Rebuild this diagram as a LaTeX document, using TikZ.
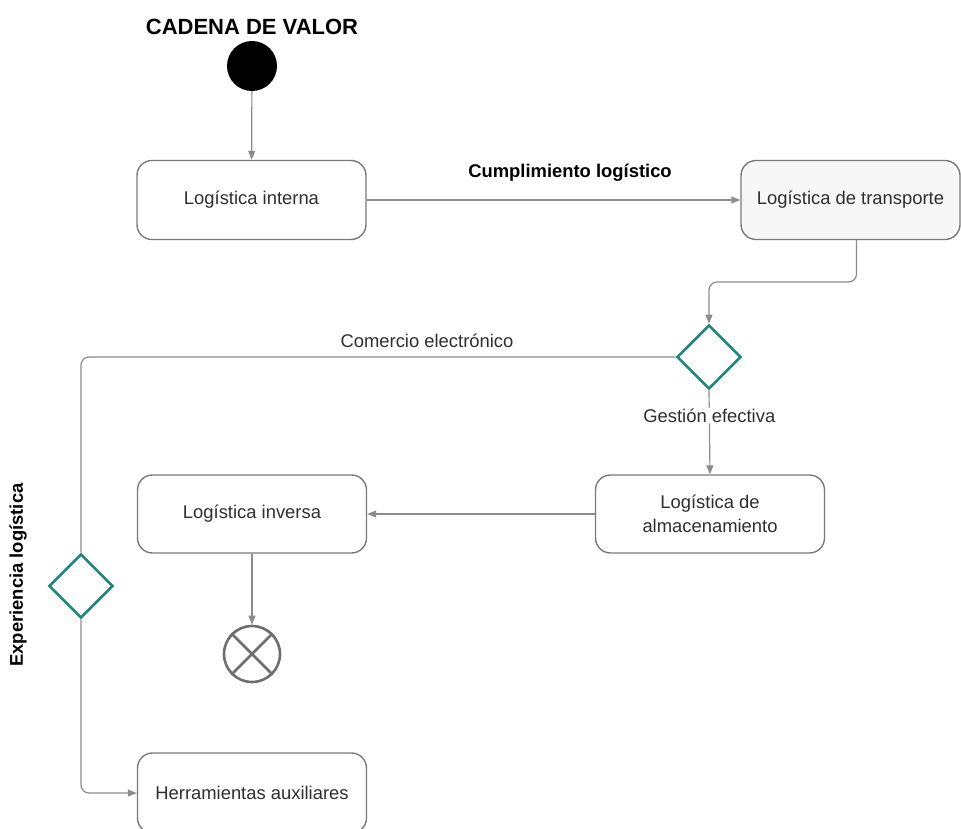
\documentclass[tikz,border=0pt]{standalone}
\usepackage{fontspec}
\setmainfont{Liberation Sans}
\usetikzlibrary{arrows.meta,shapes.geometric}
\definecolor{linegray}{HTML}{8C8C8C}
\definecolor{boxgray}{HTML}{7A7A7A}
\definecolor{txt}{HTML}{2E2E2E}
\definecolor{gateteal}{HTML}{23877D}
\definecolor{endgray}{HTML}{6E6E6E}
\definecolor{softfill}{HTML}{F7F7F7}
\begin{document}
\begin{tikzpicture}[x=1pt,y=-1pt,
  lbl/.style={font=\fontsize{18.4}{22}\selectfont, text=txt, inner sep=1pt},
  boldlbl/.style={font=\bfseries\fontsize{18.4}{22}\selectfont, text=black},
  box/.style={draw=boxgray, line width=1.4pt, rounded corners=15pt,
    minimum width=229pt, minimum height=79pt, inner sep=0pt, align=center,
    font=\fontsize{18.4}{24}\selectfont, text=txt},
  wire/.style={draw=linegray, line width=1.2pt, rounded corners=8pt},
  flow/.style={wire, -{Triangle[length=9pt,width=7pt]}},
  gate/.style={diamond, draw=gateteal, line width=2.6pt, minimum width=64pt,
    minimum height=64pt, inner sep=0pt}]
\clip (0,0) rectangle (961,829);

% title and start point
\node[font=\bfseries\fontsize{22}{26}\selectfont] (title) at (252,27) {CADENA DE VALOR};
\node[circle, fill=black, minimum size=50pt, inner sep=0pt] (start) at (252,66) {};

% activities
\node[box] (interna) at (251.5,200) {Logística interna};
\node[box, fill=softfill, minimum width=219pt] (transporte) at (850.5,200) {Logística de transporte};
\node[box, minimum height=78pt] (alm) at (710,514) {Logística de\\almacenamiento};
\node[box, minimum height=78pt] (inv) at (252,514) {Logística inversa};
\node[box, minimum height=80pt] (herr) at (252,793) {Herramientas auxiliares};

% gateways
\node[gate] (g1) at (709,357) {};
\node[gate] (g2) at (81,586) {};

% end point
\node[circle, draw=endgray, line width=2.6pt, minimum size=56pt, inner sep=0pt] (endx) at (252,654) {};
\draw[endgray, line width=2.6pt] (endx.45) -- (endx.225) (endx.135) -- (endx.315);

% connectors
\coordinate (bend) at (709,282);
\draw[flow] (start) -- (interna);
\draw[flow] (interna) -- (transporte);
\draw[flow] ([xshift=6pt]transporte.south) |- (bend) -- (g1.north);
\draw[wire] (g1.west) -| (g2.north);
\draw[flow] (g2.south) |- (herr.west);
\draw[flow] (g1.south) -- node[lbl, fill=white, pos=0.3] (gest) {Gestión efectiva} (alm.north);
\draw[flow] (alm.west) -- (inv.east);
\draw[flow] (inv.south) -- (endx.north);

% labels
\node[boldlbl] (cump) at (570,173) {Cumplimiento logístico};
\node[lbl] (comercio) at (427,341) {Comercio electrónico};
\node[boldlbl, rotate=90] (exp) at (18,575) {Experiencia logística};
\end{tikzpicture}
\end{document}
